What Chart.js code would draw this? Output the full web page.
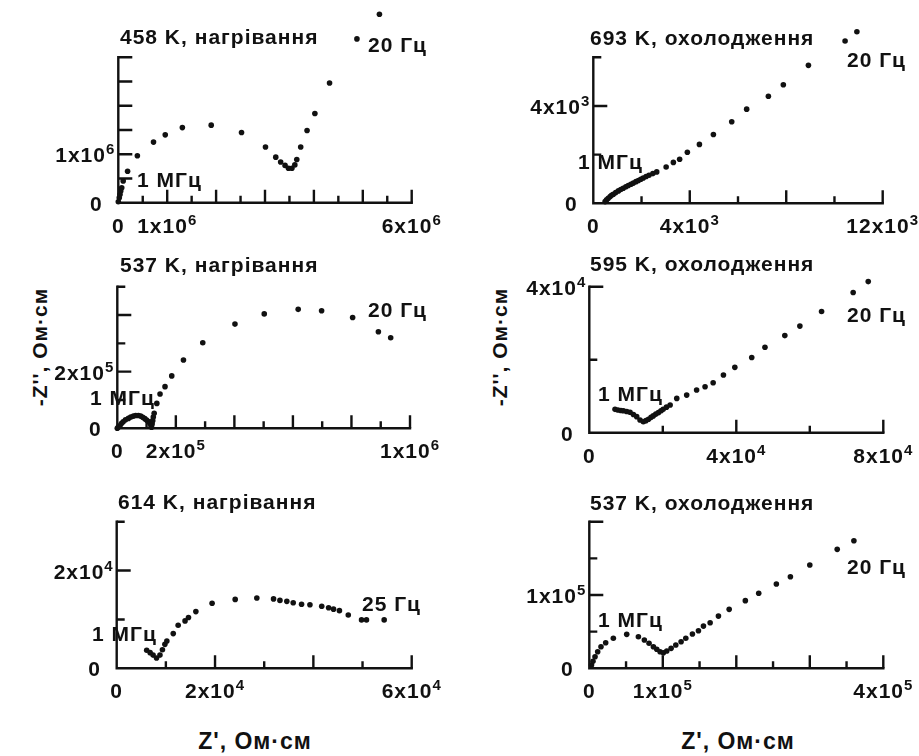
<!DOCTYPE html>
<html lang="uk">
<head>
  <meta charset="UTF-8">
  <title>Годографи імпедансу</title>
  <script src="https://cdn.jsdelivr.net/npm/chart.js"></script>
  <style>
    body { margin: 0; background: #fff; }
    #wrap { position: relative; width: 919px; height: 756px; overflow: hidden; background: #fff; }
    #wrap canvas { position: absolute; left: 0; top: 0; }
    .axis-title { position: absolute; font: bold 21px "Liberation Sans", Arial, sans-serif; letter-spacing: 1px; color: #111; white-space: nowrap; }
    .y-title { transform: translate(-50%, -50%) rotate(-90deg); }
    .x-title { transform: translateX(-50%); font-size: 23px; }
  </style>
</head>
<body>
<div id="wrap">
  <div class="axis-title y-title" style="left:40px; top:347px;">-Z'', Ом·см</div>
  <div class="axis-title y-title" style="left:500px; top:347px;">-Z'', Ом·см</div>
  <div class="axis-title x-title" style="left:255px; top:728px;">Z', Ом·см</div>
  <div class="axis-title x-title" style="left:738px; top:728px;">Z', Ом·см</div>
</div>

<script>
// ---- data: Z' (re) and -Z'' (im), Ом·см ----
const titles = ['458 K, нагрівання', '693 K, охолодження', '537 K, нагрівання',
                '595 K, охолодження', '614 K, нагрівання', '537 K, охолодження'];
const lowFreq = ['20 Гц', '20 Гц', '20 Гц', '20 Гц', '25 Гц', '20 Гц'];
const highFreq = '1 МГц';

// 458 K, heating
const re1 = [0, 0.02e6, 0.035e6, 0.05e6, 0.07e6, 0.10e6, 0.19e6, 0.39e6, 0.72e6, 0.96e6, 1.31e6, 1.90e6,
             2.52e6, 3.01e6, 3.22e6, 3.32e6, 3.41e6, 3.48e6, 3.55e6, 3.61e6, 3.65e6, 3.73e6, 3.86e6,
             4.02e6, 4.32e6, 4.88e6, 5.34e6];
const im1 = [0.02e6, 0.10e6, 0.17e6, 0.24e6, 0.31e6, 0.45e6, 0.65e6, 0.97e6, 1.25e6, 1.40e6, 1.55e6, 1.60e6,
             1.45e6, 1.15e6, 0.94e6, 0.84e6, 0.77e6, 0.71e6, 0.71e6, 0.78e6, 0.89e6, 1.15e6, 1.49e6,
             1.84e6, 2.47e6, 3.38e6, 3.89e6];

// 693 K, cooling
const re2 = [0.49e3, 0.55e3, 0.62e3, 0.70e3, 0.76e3, 0.83e3, 0.93e3, 1.04e3, 1.14e3, 1.24e3, 1.35e3, 1.45e3,
             1.56e3, 1.66e3, 1.77e3, 1.87e3, 1.97e3, 2.07e3, 2.19e3, 2.31e3, 2.47e3, 2.63e3, 3.02e3, 3.32e3,
             3.58e3, 3.90e3, 4.40e3, 4.98e3, 5.74e3, 6.36e3, 7.26e3, 7.88e3, 8.92e3, 10.44e3, 10.93e3];
const im2 = [0.07e3, 0.14e3, 0.21e3, 0.28e3, 0.33e3, 0.37e3, 0.44e3, 0.51e3, 0.57e3, 0.62e3, 0.68e3, 0.73e3,
             0.78e3, 0.83e3, 0.89e3, 0.94e3, 0.99e3, 1.04e3, 1.10e3, 1.15e3, 1.22e3, 1.29e3, 1.49e3, 1.68e3,
             1.81e3, 2.10e3, 2.42e3, 2.83e3, 3.35e3, 3.87e3, 4.40e3, 4.87e3, 5.67e3, 6.67e3, 7.05e3];

// 537 K, heating
const re3 = [0, 0.04e5, 0.09e5, 0.14e5, 0.20e5, 0.28e5, 0.38e5, 0.46e5, 0.55e5, 0.63e5, 0.72e5, 0.80e5,
             0.87e5, 0.94e5, 1.00e5, 1.06e5, 1.12e5, 1.15e5, 1.17e5, 1.19e5, 1.21e5, 1.23e5, 1.26e5, 1.35e5,
             1.46e5, 1.63e5, 1.86e5, 2.26e5, 2.92e5, 4.02e5, 5.02e5, 6.18e5, 6.98e5, 8.04e5, 8.92e5, 9.34e5];
const im3 = [0, 0.05e5, 0.09e5, 0.17e5, 0.23e5, 0.30e5, 0.35e5, 0.40e5, 0.43e5, 0.45e5, 0.45e5, 0.43e5,
             0.39e5, 0.34e5, 0.29e5, 0.24e5, 0.18e5, 0.10e5, 0.04e5, 0.15e5, 0.27e5, 0.40e5, 0.53e5, 0.88e5,
             1.21e5, 1.47e5, 1.85e5, 2.41e5, 3.02e5, 3.68e5, 4.04e5, 4.20e5, 4.15e5, 3.91e5, 3.41e5, 3.20e5];

// 595 K, cooling
const re4 = [0.70e4, 0.78e4, 0.86e4, 0.93e4, 1.02e4, 1.11e4, 1.20e4, 1.29e4, 1.38e4, 1.47e4, 1.54e4, 1.61e4,
             1.68e4, 1.74e4, 1.81e4, 1.88e4, 1.95e4, 2.01e4, 2.10e4, 2.20e4, 2.38e4, 2.65e4, 2.92e4, 3.15e4,
             3.37e4, 3.65e4, 3.96e4, 4.42e4, 4.78e4, 5.32e4, 5.73e4, 6.32e4, 7.18e4, 7.59e4];
const im4 = [0.64e4, 0.62e4, 0.61e4, 0.60e4, 0.58e4, 0.56e4, 0.50e4, 0.44e4, 0.35e4, 0.30e4, 0.33e4, 0.37e4,
             0.42e4, 0.46e4, 0.51e4, 0.55e4, 0.60e4, 0.64e4, 0.70e4, 0.76e4, 0.94e4, 1.03e4, 1.17e4, 1.26e4,
             1.37e4, 1.58e4, 1.79e4, 2.06e4, 2.34e4, 2.66e4, 2.92e4, 3.32e4, 3.84e4, 4.14e4];

// 614 K, heating
const re5 = [0.61e4, 0.68e4, 0.74e4, 0.81e4, 0.88e4, 0.93e4, 0.98e4, 1.02e4, 1.15e4, 1.25e4, 1.39e4, 1.46e4,
             1.61e4, 1.94e4, 2.41e4, 2.85e4, 3.19e4, 3.32e4, 3.46e4, 3.59e4, 3.76e4, 3.93e4, 4.17e4, 4.31e4,
             4.41e4, 4.53e4, 4.71e4, 4.98e4, 5.08e4, 5.44e4];
const im5 = [0.37e4, 0.32e4, 0.27e4, 0.21e4, 0.27e4, 0.38e4, 0.49e4, 0.56e4, 0.71e4, 0.88e4, 0.97e4, 1.04e4,
             1.16e4, 1.33e4, 1.41e4, 1.44e4, 1.42e4, 1.39e4, 1.37e4, 1.34e4, 1.31e4, 1.30e4, 1.27e4, 1.24e4,
             1.21e4, 1.18e4, 1.09e4, 0.99e4, 0.99e4, 0.99e4];

// 537 K, cooling
const re6 = [0.30e4, 0.50e4, 0.78e4, 1.14e4, 1.59e4, 2.23e4, 3.27e4, 5.09e4, 6.68e4, 7.49e4, 8.13e4, 8.72e4,
             9.18e4, 9.63e4, 10.08e4, 10.54e4, 11.13e4, 11.77e4, 12.49e4, 13.13e4, 14.03e4, 14.85e4, 15.53e4,
             16.44e4, 17.57e4, 19.03e4, 21.23e4, 23.05e4, 25.45e4, 27.36e4, 30.0e4, 33.73e4, 36.0e4];
const im6 = [0.45e4, 0.95e4, 1.58e4, 2.26e4, 2.94e4, 3.49e4, 4.09e4, 4.63e4, 4.31e4, 3.86e4, 3.41e4, 2.94e4,
             2.59e4, 2.26e4, 2.13e4, 2.36e4, 2.72e4, 3.17e4, 3.62e4, 4.09e4, 4.67e4, 5.12e4, 5.76e4,
             6.21e4, 7.12e4, 8.04e4, 9.23e4, 10.23e4, 11.5e4, 12.5e4, 14.09e4, 16.23e4, 17.41e4];

// axis lengths and tick steps [axis max, minor step, major step]
const xAxes = [[6e6, 5e5, 1e6], [12e3, 2e3, 4e3], [1e6, 1e5, 2e5], [8e4, 2e4, 4e4], [6e4, 1e4, 2e4], [4e5, 5e4, 1e5]];
const yAxes = [[3e6, 5e5, 5e5], [6e3, 2e3, 4e3], [5e5, 1e5, 2e5], [4e4, 2e4, 4e4], [3e4, 1e4, 2e4], [2e5, 5e4, 1e5]];
// visible y range (points run above the drawn axis in some panels)
const yView = [4.1e6, 8e3, 5e5, 4.6e4, 3e4, 2e5];

// labelled ticks
const xTickVals = [[0, 1e6, 6e6], [0, 4e3, 12e3], [0, 2e5, 1e6], [0, 4e4, 8e4], [0, 2e4, 6e4], [0, 1e5, 4e5]];
const xTickText = [['0', '1x10^6', '6x10^6'], ['0', '4x10^3', '12x10^3'], ['0', '2x10^5', '1x10^6'],
                   ['0', '4x10^4', '8x10^4'], ['0', '2x10^4', '6x10^4'], ['0', '1x10^5', '4x10^5']];
const yTickVals = [[0, 1e6], [0, 4e3], [0, 2e5], [0, 4e4], [0, 2e4], [0, 1e5]];
const yTickText = [['0', '1x10^6'], ['0', '4x10^3'], ['0', '2x10^5'], ['0', '4x10^4'], ['0', '2x10^4'], ['0', '1x10^5']];

const reSets = [re1, re2, re3, re4, re5, re6];
const imSets = [im1, im2, im3, im4, im5, im6];

// ---- layout (page pixels) ----
// axis box: left, top of y axis, right end of x axis, bottom
const boxes = [[118.3, 56.7, 411.7, 202.7], [593.3, 57.3, 882.7, 203.3], [117.3, 286.7, 410, 428.3],
               [589.3, 286.7, 883.3, 432.7], [116.7, 521.7, 411.7, 668.3], [589.3, 521.7, 883.3, 668.3]];
// text anchors: title, low-frequency note, 1 MHz note (left x, baseline y)
const notes = [
  { title: [120, 44], lo: [368, 52], hi: [137, 187] },
  { title: [590, 45], lo: [847, 67], hi: [578, 169] },
  { title: [120, 272], lo: [368, 317], hi: [90, 405] },
  { title: [590, 271], lo: [847, 322], hi: [598, 401] },
  { title: [118, 509], lo: [362, 611], hi: [92, 641] },
  { title: [590, 510], lo: [847, 574], hi: [598, 627] }
];

const W = 919, H = 756;
const INK = '#111';
const FONT = 'bold 21px "Liberation Sans", Arial, sans-serif';
const SUP = 'bold 15px "Liberation Sans", Arial, sans-serif';

function drawLabel(ctx, label, x, y, align) {
  const parts = label.split('^');
  ctx.letterSpacing = '1px';
  ctx.font = FONT;
  const wb = ctx.measureText(parts[0]).width;
  let we = 0;
  if (parts[1]) { ctx.font = SUP; we = ctx.measureText(parts[1]).width; }
  const w = wb + we;
  const left = align === 'right' ? x - w : align === 'center' ? x - w / 2 : x;
  ctx.textAlign = 'left';
  ctx.textBaseline = 'alphabetic';
  ctx.font = FONT;
  ctx.fillText(parts[0], left, y);
  if (parts[1]) {
    ctx.font = SUP;
    ctx.fillText(parts[1], left + wb, y - 8);
  }
}

function onStep(v, step) {
  const r = v / step;
  return Math.abs(r - Math.round(r)) < 1e-6;
}

function axesPlugin(i) {
  return {
    id: 'nyquistAxes' + i,
    afterDatasetsDraw(chart) {
      const { ctx, scales: { x, y } } = chart;
      const [xMax, xMin, xMaj] = xAxes[i];
      const [yMax, yMin, yMaj] = yAxes[i];
      const x0 = x.getPixelForValue(0), y0 = y.getPixelForValue(0);
      ctx.save();
      ctx.strokeStyle = INK;
      ctx.fillStyle = INK;
      ctx.lineWidth = 2.4;
      ctx.lineCap = 'square';
      ctx.beginPath();
      ctx.moveTo(x0, y.getPixelForValue(yMax));
      ctx.lineTo(x0, y0);
      ctx.lineTo(x.getPixelForValue(xMax), y0);
      ctx.stroke();

      ctx.lineCap = 'butt';
      ctx.beginPath();
      for (let v = xMin; v <= xMax * 1.0001; v += xMin) {
        const px = x.getPixelForValue(v);
        const len = onStep(v, xMaj) ? 13 : 7;
        ctx.moveTo(px, y0);
        ctx.lineTo(px, y0 - len);
      }
      for (let v = yMin; v <= yMax * 1.0001; v += yMin) {
        const py = y.getPixelForValue(v);
        const len = onStep(v, yMaj) ? 14 : 8;
        ctx.moveTo(x0, py);
        ctx.lineTo(x0 + len, py);
      }
      ctx.stroke();

      xTickVals[i].forEach((v, k) => {
        drawLabel(ctx, xTickText[i][k], x.getPixelForValue(v), y0 + 30, 'center');
      });
      yTickVals[i].forEach((v, k) => {
        const py = y.getPixelForValue(v) + 8;
        if (v === 0) drawLabel(ctx, yTickText[i][k], x0 - 22, py, 'center');
        else drawLabel(ctx, yTickText[i][k], x0 - 3, py, 'right');
      });

      const n = notes[i];
      drawLabel(ctx, titles[i], n.title[0], n.title[1], 'left');
      drawLabel(ctx, lowFreq[i], n.lo[0], n.lo[1], 'left');
      drawLabel(ctx, highFreq, n.hi[0], n.hi[1], 'left');
      ctx.restore();
    }
  };
}

const wrap = document.getElementById('wrap');
for (let i = 0; i < 6; i++) {
  const cv = document.createElement('canvas');
  cv.width = W;
  cv.height = H;
  wrap.appendChild(cv);
  const b = boxes[i];
  // extend the plot area upward so points beyond the drawn y axis stay visible
  const top = b[3] - (b[3] - b[1]) * yView[i] / yAxes[i][0];
  new Chart(cv, {
    type: 'scatter',
    data: {
      datasets: [{
        data: reSets[i].map((v, k) => ({ x: v, y: imSets[i][k] })),
        pointRadius: 2.8,
        pointBackgroundColor: INK,
        pointBorderWidth: 0,
        clip: false
      }]
    },
    options: {
      responsive: false,
      animation: false,
      events: [],
      layout: { padding: { left: b[0], top: top, right: W - b[2], bottom: H - b[3] } },
      scales: {
        x: { type: 'linear', display: false, min: 0, max: xAxes[i][0] },
        y: { type: 'linear', display: false, min: 0, max: yView[i] }
      },
      plugins: { legend: { display: false }, tooltip: { enabled: false }, title: { display: false } }
    },
    plugins: [axesPlugin(i)]
  });
}
</script>
</body>
</html>
